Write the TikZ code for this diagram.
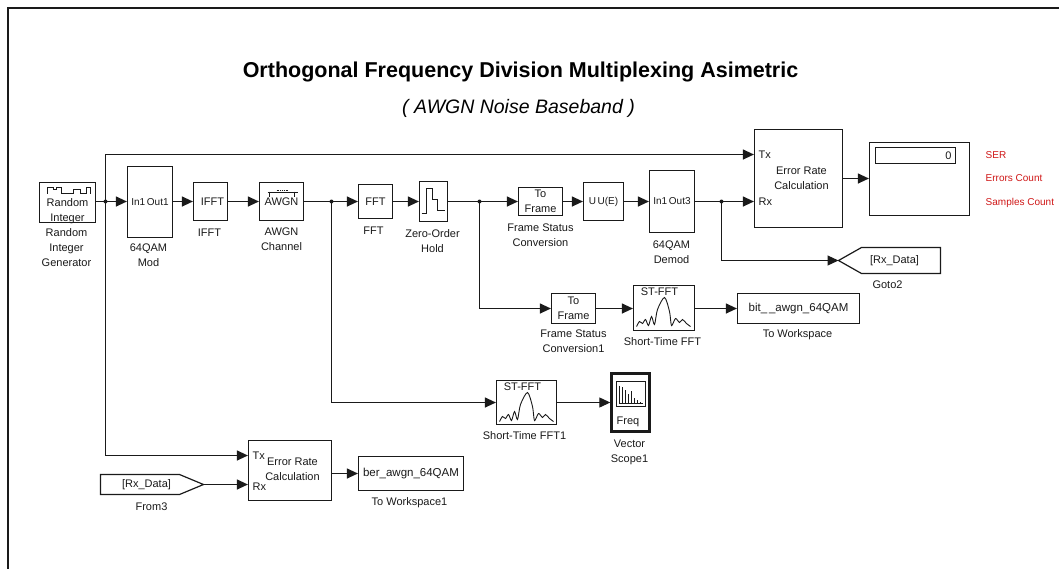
\documentclass[tikz,border=0pt]{standalone}
\usepackage{fontspec}
\setmainfont{Liberation Sans}
\usetikzlibrary{arrows.meta,calc}
\definecolor{ink}{HTML}{1A1A1A}
\definecolor{sigred}{HTML}{D01818}
\tikzset{
  x=1pt,y=-1pt,
  blockbox/.style={draw=ink,line width=1.2pt,fill=white,inner sep=0pt,align=center,text=ink,font=\fontsize{11}{15}\selectfont},
  lbl/.style={inner sep=0pt,align=center,text=ink,font=\fontsize{11}{15}\selectfont},
  wire/.style={draw=ink,line width=1.2pt,-{Triangle[length=11pt,width=10pt]}},
  plainwire/.style={draw=ink,line width=1.2pt},
  dotj/.style={circle,fill=ink,inner sep=0pt,minimum size=4pt},
  redlbl/.style={inner sep=0pt,anchor=west,text=sigred,font=\fontsize{10}{10}\selectfont},
  port/.style={inner sep=0pt,anchor=west,text=ink,font=\fontsize{11}{10}\selectfont}
}
\newcommand{\blk}[6]{\node[blockbox,minimum width={#4-#2},minimum height={#5-#3}] (#1) at ({(#2+#4)/2},{(#3+#5)/2}) {#6};}
\begin{document}
\begin{tikzpicture}
\useasboundingbox (0,0) rectangle (1059,568);
\fill[white] (0,0) rectangle (1059,568);
\begin{scope}[shift={(0.5,0.5)}]
\draw[ink,line width=2pt] (7,568) -- (7,7) -- (1059,7);
\node[inner sep=0pt,text=black,font=\bfseries\fontsize{21.5}{24}\selectfont] (title) at (520,71) {Orthogonal Frequency Division Multiplexing Asimetric};
\node[inner sep=0pt,text=black,font=\itshape\fontsize{19.5}{22}\selectfont] (subtitle) at (518,108) {( AWGN Noise Baseband )};

\blk{rig}{39}{182}{95}{222}{}
\node[lbl] (rigt) at (67,210.5) {Random\\Integer};
\blk{mod}{127}{166}{172}{237}{\fontsize{10}{12}\selectfont In1\,Out1}
\blk{ifft}{193}{182}{227}{220}{\hspace{4pt}IFFT}
\blk{awgn}{259}{182}{303}{220}{}
\blk{fft}{358}{184}{392}{218}{FFT}
\blk{zoh}{419}{181}{447}{221}{}
\blk{tf}{518}{187}{562}{215}{To\\Frame}
\blk{uue}{583}{182}{623}{220}{\fontsize{10}{12}\selectfont U\,U(E)}
\blk{demod}{649}{170}{694}{232}{\fontsize{10}{12}\selectfont In1\,Out3}
\blk{tf1}{551}{293}{595}{323}{To\\Frame}
\blk{stf}{633}{285}{694}{330}{}
\blk{err}{754}{129}{842}{227}{}
\node[lbl] (errt) at (801,178) {Error Rate\\Calculation};
\blk{disp}{869}{142}{969}{215}{}
\blk{dinner}{875}{147}{955}{163}{\hspace*{66pt}0}
\blk{bit}{737}{293}{859}{323}{\fontsize{11.5}{12}\selectfont bit\_\,\_awgn\_64QAM}
\blk{stf2}{496}{380}{556}{424}{}
\node[draw=ink,line width=2.4pt,fill=white,minimum width=38pt,minimum height=58pt,inner sep=0pt] (scope) at (630,402) {};
\blk{scr}{616}{381}{645}{406}{}
\blk{err2}{248}{440}{331}{500}{}
\node[lbl] (err2t) at (292,469) {Error Rate\\Calculation};
\blk{ber}{358}{456}{463}{490}{\fontsize{11.5}{12}\selectfont ber\_awgn\_64QAM}

\coordinate (gototip) at (838,260);
\draw[draw=ink,line width=1.2pt,fill=white] (gototip) -- (861,247) -- (940,247) -- (940,273) -- (861,273) -- cycle;
\node[lbl] (gototxt) at (894,260) {[Rx\_Data]};
\coordinate (fromtip) at (203,484);
\draw[draw=ink,line width=1.2pt,fill=white] (100,474) -- (179,474) -- (fromtip) -- (179,494) -- (100,494) -- cycle;
\node[lbl] (fromtxt) at (146,484.5) {[Rx\_Data]};
\node[lbl] (awgnt) at (281,201) {AWGN};

% connectors
\coordinate (j1) at (105,201);
\coordinate (j2) at (331,201);
\coordinate (j3) at (479,201);
\coordinate (j4) at (721,201);
\coordinate (txt) at (err.west |- 0,154);
\coordinate (rxt) at (err.west |- 0,201);
\coordinate (txb) at (err2.west |- 0,455);
\coordinate (rxb) at (err2.west |- 0,484);
\draw[plainwire] (rig.east |- j1) -- (j1);
\draw[wire] (j1) -- (mod.west |- j1);
\draw[wire] (mod.east |- j1) -- (ifft.west |- j1);
\draw[wire] (ifft.east |- j1) -- (awgn.west |- j1);
\draw[plainwire] (awgn.east |- j1) -- (j2);
\draw[wire] (j2) -- (fft.west |- j2);
\draw[wire] (fft.east |- j2) -- (zoh.west |- j2);
\draw[plainwire] (zoh.east |- j2) -- (j3);
\draw[wire] (j3) -- (tf.west |- j3);
\draw[wire] (tf.east |- j3) -- (uue.west |- j3);
\draw[wire] (uue.east |- j3) -- (demod.west |- j3);
\draw[plainwire] (demod.east |- j4) -- (j4);
\draw[wire] (j4) -- (rxt);
\draw[wire] (j1) |- (txt);
\draw[wire] (j1) |- (txb);
\draw[wire] (j2) |- (stf2.west);
\draw[wire] (j3) |- (tf1.west);
\draw[wire] (tf1.east) -- (stf.west |- tf1.east);
\draw[wire] (stf.east |- bit.west) -- (bit.west);
\draw[wire] (j4) |- (gototip);
\draw[wire] (stf2.east) -- (scope.west);
\draw[wire] (fromtip) -- (rxb);
\draw[wire] (err.east |- 0,178) -- (disp.west |- 0,178);
\draw[wire] (err2.east |- 0,473) -- (ber.west |- 0,473);
\foreach \j in {j1,j2,j3,j4} \node[dotj] at (\j) {};

% block icons
\draw[ink,line width=.8pt] (47,193) -- (47,187) -- (53,187) -- (53,189) -- (56,189) -- (56,187) -- (61,187) -- (61,193) -- (73,193) -- (73,189) -- (80,189) -- (80,193) -- (86,193) -- (86,187) -- (90,187) -- (90,193);
\draw[ink,line width=1pt] (267,191.5) -- (297,191.5) (269,191) -- (269,196) (294,191) -- (294,196);
\draw[ink,line width=.8pt,densely dotted] (276,190) -- (288,190);
\draw[ink,line width=1.1pt] (421,213) -- (426,213) -- (426,188) -- (432,188) -- (432,199) -- (437,199) -- (437,210) -- (444,210);
\foreach \n/\cx/\cy in {a/663/307,b/526/402} {
 \node[lbl] at (\cx-4,\cy-15.5) {ST-FFT};
 \draw[ink,line width=.9pt] plot[smooth] coordinates {(\cx-27,\cy+19) (\cx-24,\cy+14) (\cx-21,\cy+16) (\cx-18,\cy+12) (\cx-15,\cy+18) (\cx-12,\cy+9) (\cx-9,\cy+17) (\cx-6,\cy+2) (\cx+1,\cy-10) (\cx+6,\cy+4) (\cx+8,\cy+18) (\cx+12,\cy+11) (\cx+16,\cy+15) (\cx+19,\cy+12) (\cx+23,\cy+16) (\cx+27,\cy+19)};
}
\draw[ink,line width=.9pt] (619,385) -- (619,403) -- (642,403);
\foreach \x/\h in {622/17,625/14,628/10,631/13,634/6,637/4,640/2} \draw[ink,line width=.8pt] (\x,403) -- (\x,403-\h);
\node[port] (freqtxt) at (616,421) {Freq};

% ports
\node[port] (tx1) at (758,154) {Tx};
\node[port] (rx1) at (758,201) {Rx};
\node[port] (tx2) at (252,455) {Tx};
\node[port] (rx2) at (252,486) {Rx};
\foreach \n/\t/\y in {r1/SER/155,r2/Errors Count/178,r3/Samples Count/202} \node[redlbl] (\n) at (985,\y) {\t};

% labels
\node[lbl,anchor=north] (l1) at (66,228) {Random\\Integer\\Generator};
\node[lbl,anchor=north] (l2) at (148,243.5) {64QAM\\Mod};
\node[lbl,anchor=north] (l3) at (209,228) {IFFT};
\node[lbl,anchor=north] (l4) at (281,227) {AWGN\\Channel};
\node[lbl,anchor=north] (l5) at (373,226) {FFT};
\node[lbl,anchor=north] (l6) at (432,229) {Zero-Order\\Hold};
\node[lbl,anchor=north] (l7) at (540,223) {Frame Status\\Conversion};
\node[lbl,anchor=north] (l8) at (671,240) {64QAM\\Demod};
\node[lbl,anchor=north] (l9) at (573,329) {Frame Status\\Conversion1};
\node[lbl,anchor=north] (l10) at (662,337) {Short-Time FFT};
\node[lbl,anchor=north] (l11) at (797,329) {To Workspace};
\node[lbl,anchor=north] (l12) at (887,280) {Goto2};
\node[lbl,anchor=north] (l13) at (524,431) {Short-Time FFT1};
\node[lbl,anchor=north] (l14) at (629,439) {Vector\\Scope1};
\node[lbl,anchor=north] (l15) at (151,502) {From3};
\node[lbl,anchor=north] (l16) at (409,497) {To Workspace1};
\end{scope}
\end{tikzpicture}
\end{document}
